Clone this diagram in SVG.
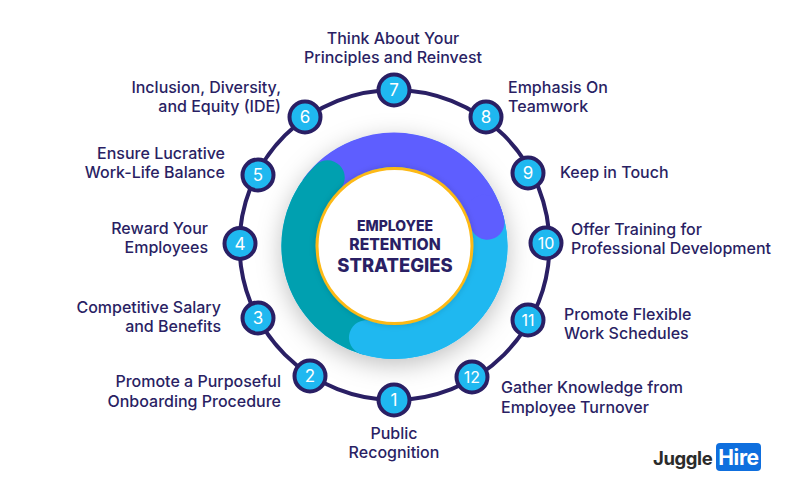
<svg xmlns="http://www.w3.org/2000/svg" width="789" height="493" viewBox="0 0 789 493">
<defs>
<filter id="sh" x="-30%" y="-30%" width="160%" height="160%"><feDropShadow dx="0" dy="6" stdDeviation="12" flood-color="#000" flood-opacity=".25"/></filter>
<filter id="sh2" x="-30%" y="-30%" width="160%" height="160%"><feDropShadow dx="0" dy="0" stdDeviation="3" flood-color="#000" flood-opacity=".15"/></filter>
</defs>
<style>
text{font-family:"Inter","Liberation Sans",sans-serif;fill:#2A1F64}
.n circle{fill:#1FB8F0;stroke:#2A1F64;stroke-width:4}
.n text.d{fill:#fff;font-size:17px;text-anchor:middle}
.n text.d2{fill:#fff;font-size:16px;text-anchor:middle}
.n text.s,.n text.e,.n text.m{font-size:16px;font-weight:450}
.s{text-anchor:start}.e{text-anchor:end}.m{text-anchor:middle}
.arc{fill:none;stroke-width:34.5}
.c{font-weight:800;text-anchor:middle}
</style>
<rect width="789" height="493" fill="#fff"/>
<g id="connectors"><circle cx="394.5" cy="245" r="155" fill="none" stroke="#2A1F64" stroke-width="4"/></g>
<g id="center">
<circle cx="394.5" cy="246" r="113" fill="#1FB8F0" filter="url(#sh)"/>
<path class="arc" stroke="#5E5EFF" d="M316.5 190A95.75 95.75 0 0 1 487.3 222.4"/>
<path class="arc" stroke="#00A0B0" d="M366.2 337.5A95.75 95.75 0 0 1 327.5 177.5" stroke-linecap="round"/>
<path class="arc" stroke="#1FB8F0" d="M487.3 222.4A95.75 95.75 0 0 1 366.2 337.5" stroke-linecap="round"/>
<path class="arc" stroke="#5E5EFF" d="M484 212A95.75 95.75 0 0 1 487.3 222.4" stroke-linecap="round"/>
<circle cx="394.5" cy="246" r="77.5" fill="#fff" stroke="#FDB913" stroke-width="3" filter="url(#sh2)"/>
<text class="c" x="395" y="231" font-size="14">EMPLOYEE</text>
<text class="c" x="395" y="250" font-size="15.7">RETENTION</text>
<text class="c" x="395" y="272" font-size="18.4">STRATEGIES</text>
</g>
<g id="n1" class="n"><circle cx="394" cy="400" r="15.5"/><text class="d" x="394" y="406">1</text><text class="m" x="394" y="439">Public</text><text class="m" x="394" y="458">Recognition</text></g>
<g id="n2" class="n"><circle cx="310" cy="376" r="15.5"/><text class="d" x="310" y="382">2</text><text class="e" x="281" y="387">Promote a Purposeful</text><text class="e" x="281" y="407">Onboarding Procedure</text></g>
<g id="n3" class="n"><circle cx="258" cy="318" r="15.5"/><text class="d" x="258" y="324">3</text><text class="e" x="221" y="313">Competitive Salary</text><text class="e" x="221" y="332">and Benefits</text></g>
<g id="n4" class="n"><circle cx="240" cy="243.500" r="15.5"/><text class="d" x="240" y="250">4</text><text class="e" x="208" y="234">Reward Your</text><text class="e" x="208" y="253">Employees</text></g>
<g id="n5" class="n"><circle cx="258" cy="175" r="15.5"/><text class="d" x="258" y="181">5</text><text class="e" x="225" y="159">Ensure Lucrative</text><text class="e" x="225" y="178">Work-Life Balance</text></g>
<g id="n6" class="n"><circle cx="305" cy="117" r="15.5"/><text class="d" x="305" y="123">6</text><text class="e" x="281" y="93">Inclusion, Diversity,</text><text class="e" x="281" y="112">and Equity (IDE)</text></g>
<g id="n7" class="n"><circle cx="394" cy="90" r="15.5"/><text class="d" x="394" y="96">7</text><text class="m" x="393" y="44">Think About Your</text><text class="m" x="393" y="63">Principles and Reinvest</text></g>
<g id="n8" class="n"><circle cx="486" cy="117" r="15.5"/><text class="d" x="486" y="123">8</text><text class="s" x="508" y="93">Emphasis On</text><text class="s" x="508" y="112">Teamwork</text></g>
<g id="n9" class="n"><circle cx="528" cy="173" r="15.5"/><text class="d" x="528" y="179">9</text><text class="s" x="560" y="178">Keep in Touch</text></g>
<g id="n10" class="n"><circle cx="546" cy="243" r="15.5"/><text class="d2" x="546" y="249">10</text><text class="s" x="571" y="235">Offer Training for</text><text class="s" x="571" y="254">Professional Development</text></g>
<g id="n11" class="n"><circle cx="528" cy="320" r="15.5"/><text class="d2" x="528" y="326">11</text><text class="s" x="564" y="320">Promote Flexible</text><text class="s" x="564" y="339">Work Schedules</text></g>
<g id="n12" class="n"><circle cx="472" cy="377" r="15.5"/><text class="d2" x="472" y="383">12</text><text class="s" x="501" y="393">Gather Knowledge from</text><text class="s" x="501" y="413">Employee Turnover</text></g>
<g id="logo">
<text x="653" y="465" style="fill:#2b2b2b;font-size:18.5px;font-weight:700;letter-spacing:-.4px">Juggle</text>
<rect x="716" y="443" width="45" height="28" rx="4" fill="#0F6FDE"/>
<text x="738.500" y="465" style="fill:#fff;font-size:21px;font-weight:700;text-anchor:middle;letter-spacing:-.4px">Hire</text>
</g>
</svg>
